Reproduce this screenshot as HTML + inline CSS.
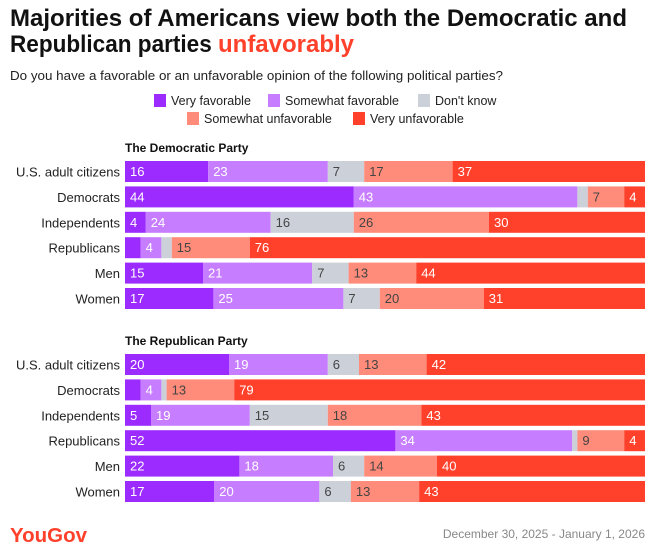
<!DOCTYPE html>
<html><head><meta charset="utf-8"><style>
html,body{margin:0;padding:0;background:#fff;}
svg{display:block;font-family:"Liberation Sans",sans-serif;}
</style></head><body>
<svg id="chart" width="660" height="555" viewBox="0 0 660 555">
<text x="10" y="26" font-size="24" font-weight="bold" fill="#111" textLength="617" lengthAdjust="spacingAndGlyphs">Majorities of Americans view both the Democratic and</text>
<text x="10" y="52" font-size="24" font-weight="bold" fill="#111"><tspan textLength="208" lengthAdjust="spacingAndGlyphs">Republican parties </tspan><tspan fill="#ff412c" textLength="136" lengthAdjust="spacingAndGlyphs">unfavorably</tspan></text>
<text x="10" y="80" font-size="13" fill="#222" textLength="493" lengthAdjust="spacingAndGlyphs">Do you have a favorable or an unfavorable opinion of the following political parties?</text>
<g id="legend"></g>
<g id="plot"></g>
<text x="10" y="542" font-size="20" fill="#ff412c" font-weight="bold" textLength="77" lengthAdjust="spacingAndGlyphs">YouGov</text>
<text x="645" y="538" font-size="12" fill="#888" text-anchor="end">December 30, 2025 - January 1, 2026</text>
</svg>
<script>
const categories = ["Very favorable","Somewhat favorable","Don't know","Somewhat unfavorable","Very unfavorable"];
const groups = ["U.S. adult citizens","Democrats","Independents","Republicans","Men","Women"];
const sections = ["The Democratic Party","The Republican Party"];
const demParty = [[16,23,7,17,37],[44,43,2,7,4],[4,24,16,26,30],[3,4,2,15,76],[15,21,7,13,44],[17,25,7,20,31]];
const repParty = [[20,19,6,13,42],[3,4,1,13,79],[5,19,15,18,43],[52,34,1,9,4],[22,18,6,14,40],[17,20,6,13,43]];
const colors = ["#9b2bff","#c77dff","#ccd0d9","#ff8c7a","#ff412c"];
const textColors = ["#fff","#fff","#444","#444","#fff"];
const NS="http://www.w3.org/2000/svg";
const svg=document.getElementById('chart'), plot=document.getElementById('plot'), legend=document.getElementById('legend');
function mk(tag,attrs,parent){const e=document.createElementNS(NS,tag);for(const k in attrs)e.setAttribute(k,attrs[k]);parent.appendChild(e);return e;}
const x0=125,x1=645;
const xs=v=>x0+(x1-x0)*v/100;
// legend
const legPos=[[154,101],[268,101],[418,101],[187,119],[353,119]];
categories.forEach((c,i)=>{
  const g=mk('g',{},legend);
  
  
  mk('rect',{x:legPos[i][0],y:legPos[i][1]-7,width:12,height:13,fill:colors[i]},g);
  const t=mk('text',{x:legPos[i][0]+17,y:legPos[i][1]+4,'font-size':12.5,fill:'#222'},g);
  t.textContent=c;
});
const secTop=[148,341];
[demParty,repParty].forEach((data,s)=>{
  const h=mk('text',{x:x0,y:secTop[s]+4,'font-size':12,'font-weight':'bold',fill:'#111'},plot);
  
  
  h.textContent=sections[s];
  data.forEach((row,r)=>{
    const yTop=secTop[s]+13+r*25.4;
    const lab=mk('text',{x:x0-5,y:yTop+15.5,'font-size':13,fill:'#222','text-anchor':'end'},plot);
    
    
    lab.textContent=groups[r];
    const total=row.reduce((a,b)=>a+b,0);
    let acc=0;
    row.forEach((v,i)=>{
      const xa=xs(acc*100/total), xb=xs((acc+v)*100/total);
      const b=mk('rect',{x:xa,y:yTop,width:Math.max(0,xb-xa),height:21,fill:colors[i]},plot);
      
      
      if(v>=4){
        const t=mk('text',{x:xa+5,y:yTop+15,'font-size':13,fill:textColors[i]},plot);
        
        
        t.textContent=v;
      }
      acc+=v;
    });
  });
});
</script>
</body></html>
